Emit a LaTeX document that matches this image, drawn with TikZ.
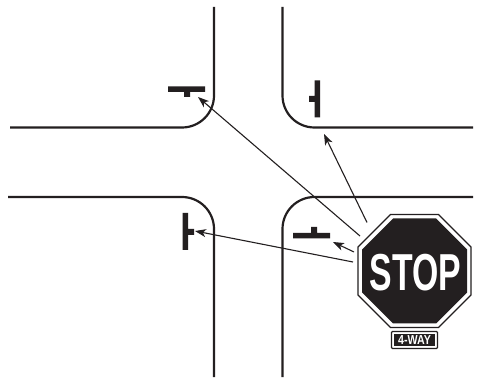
\documentclass[tikz,border=0pt]{standalone}
\usepackage{fontspec}
\setmainfont{Liberation Sans}
\usetikzlibrary{arrows.meta}
\definecolor{ink}{HTML}{231F20}
\tikzset{
  road/.style={draw=ink,line width=2.2pt,rounded corners=32pt},
  tbar/.style={fill=ink,draw=none},
  pointer/.style={draw=ink,line width=1.1pt,-{Stealth[length=11pt,width=8pt,inset=3pt]}},
  anchorpt/.style={inner sep=0pt,minimum size=0pt},
}
\begin{document}
\begin{tikzpicture}[x=1pt,y=-1pt]
\useasboundingbox (0,0) rectangle (477,382);
\fill[white] (0,0) rectangle (477,382);
% roads
\draw[road] (214,7) -- (214,127.5) -- (10,127.5);
\draw[road] (282.5,7) -- (282.5,127.5) -- (473,127.5);
\draw[road] (8,197) -- (214,197) -- (214,377);
\draw[road] (282.5,377) -- (282.5,197) -- (473,197);
% stop bars
\fill[tbar] (168,86.5) rectangle (205,92) (184,92) rectangle (190,97);
\fill[tbar] (314.5,80.5) rectangle (320,117.5) (309,96) rectangle (314.5,102);
\fill[tbar] (182.5,213) rectangle (188,250) (188,229) rectangle (194,235);
\fill[tbar] (293,233) rectangle (330,238.5) (311,227) rectangle (317,233);
% sign
\def\octa#1#2{(414.5-#1,271-#2) -- (414.5-#2,271-#1) -- (414.5+#2,271-#1) -- (414.5+#1,271-#2) -- (414.5+#1,271+#2) -- (414.5+#2,271+#1) -- (414.5-#2,271+#1) -- (414.5-#1,271+#2) -- cycle}
\filldraw[draw=ink,fill=white,line width=1.2pt] \octa{56.5}{24};
\fill[ink] \octa{52.5}{21.5};
\node[anchorpt,text=white,font=\fontsize{52}{52}\selectfont\bfseries,xscale=.65,transform shape] (stop) at (415.5,273) {STOP};
\draw[draw=ink,fill=white,line width=1.3pt,rounded corners=1pt] (391.5,331.5) rectangle (437.5,348.5);
\fill[ink] (393.8,333.8) rectangle (435.2,346.2);
\node[anchorpt,text=white,font=\fontsize{13}{13}\selectfont\bfseries,xscale=.82,transform shape] (way) at (414.5,340) {4-WAY};
% pointers
\coordinate (p1s) at (367,222.5); \coordinate (p1t) at (324,134);
\coordinate (p2s) at (360,236);   \coordinate (p2t) at (198,97);
\coordinate (p3s) at (354,252);   \coordinate (p3t) at (333,242);
\coordinate (p4s) at (353,262);   \coordinate (p4t) at (195,231);
\draw[pointer] (p1s) -- (p1t);
\draw[pointer] (p2s) -- (p2t);
\draw[pointer] (p3s) -- (p3t);
\draw[pointer] (p4s) -- (p4t);
\end{tikzpicture}
\end{document}
